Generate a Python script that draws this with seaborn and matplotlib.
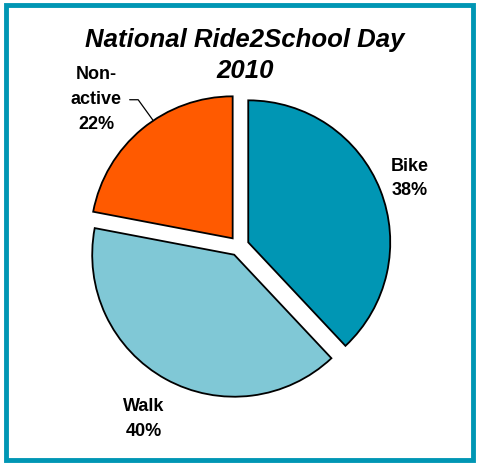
import numpy as np
import matplotlib
matplotlib.use("Agg")
import matplotlib.pyplot as plt
import seaborn as sns
from matplotlib.patches import Rectangle

# data
categories = ["Bike", "Walk", "Non-\nactive"]
shares = [38, 40, 22]
colors = ["#0096B4", "#80C8D6", "#FF5A00"]
title_lines = ["National Ride2School Day", "2010"]

sns.set_theme(style="white")
plt.rcParams['font.family'] = ['Liberation Sans', 'DejaVu Sans']

fig = plt.figure(figsize=(4.79, 4.65), dpi=100)
fig.patch.set_facecolor("white")

# pie axes: centre ~ (239, 219) px from bottom-left, radius ~142 px
r_px = 142
lim = 1.3
size = 2 * lim * r_px
ax = fig.add_axes([(239 - size / 2) / 479, (219 - size / 2) / 465, size / 479, size / 465])

wedges, _ = ax.pie(shares, colors=colors, startangle=90, counterclock=False,
                   explode=[0.07, 0.07, 0.07],
                   wedgeprops=dict(edgecolor="black", linewidth=1.3))
ax.set_xlim(-lim, lim)
ax.set_ylim(-lim, lim)
ax.set_aspect("equal")
ax.axis("off")

# labels placed around each wedge's mid angle
label_dist = [1.29, 1.39, 1.44]
angle_shift = [0, 0, 4.6]
for w, cat, val, d, s in zip(wedges, categories, shares, label_dist, angle_shift):
    mid = np.deg2rad((w.theta1 + w.theta2) / 2 + s)
    x, y = d * np.cos(mid), d * np.sin(mid)
    ax.text(x, y, f"{cat}\n{val}%", ha="center", va="center", fontsize=13,
            fontweight="bold", linespacing=1.6, color="black")

# leader line for the small "Non-active" label
w = wedges[2]
cx, cy = w.center
a = np.deg2rad(124)
px, py = cx + np.cos(a), cy + np.sin(a)
tx, ty = -0.77, 1.03
ax.plot([tx, -0.71, px], [ty, ty, py], color="black", lw=0.9, clip_on=False)

# title, two lines ~31 px apart
for line, ypx in zip(title_lines, [40, 71]):
    fig.text(245 / 479, 1 - ypx / 465, line, ha="center", va="center", fontsize=18.5,
             fontweight="bold", fontstyle="italic", color="black")

# teal frame around the whole chart
fig.patches.append(Rectangle((6 / 479, 5 / 465), 467 / 479, 455 / 465,
                             transform=fig.transFigure, fill=False,
                             edgecolor="#0096B4", linewidth=3.5))

fig.savefig("out.png", dpi=100)
